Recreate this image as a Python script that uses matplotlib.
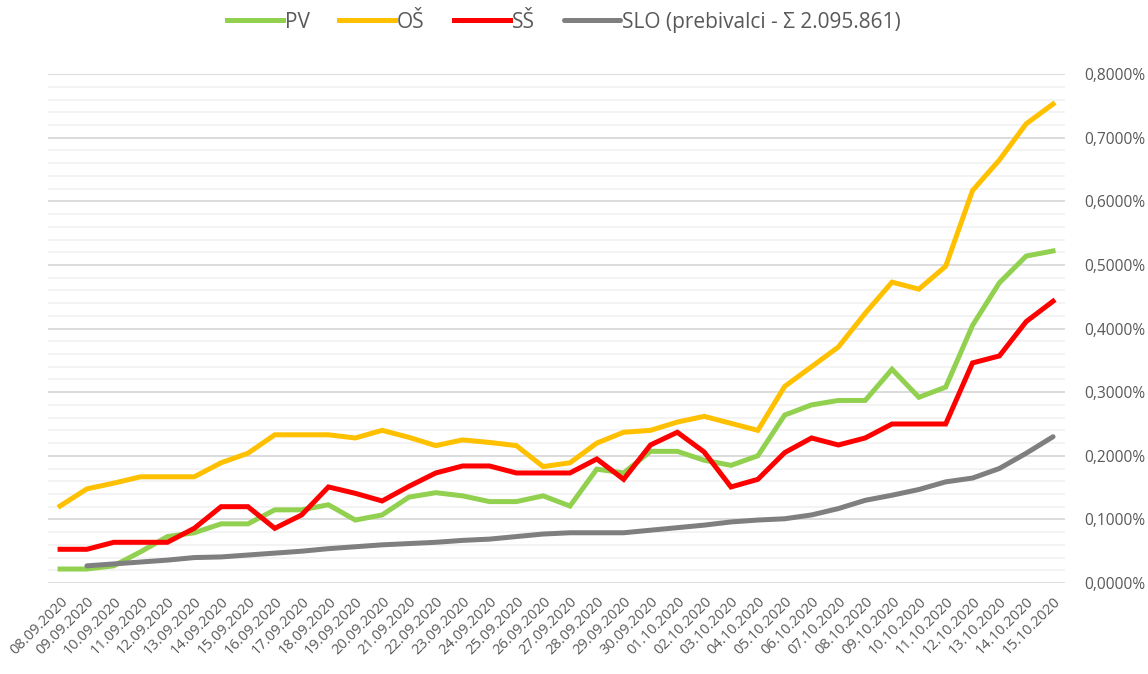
import matplotlib.pyplot as plt
import numpy as np
from matplotlib.ticker import FuncFormatter, MultipleLocator

dates = [
    "08.09.2020", "09.09.2020", "10.09.2020", "11.09.2020", "12.09.2020",
    "13.09.2020", "14.09.2020", "15.09.2020", "16.09.2020", "17.09.2020",
    "18.09.2020", "19.09.2020", "20.09.2020", "21.09.2020", "22.09.2020",
    "23.09.2020", "24.09.2020", "25.09.2020", "26.09.2020", "27.09.2020",
    "28.09.2020", "29.09.2020", "30.09.2020", "01.10.2020", "02.10.2020",
    "03.10.2020", "04.10.2020", "05.10.2020", "06.10.2020", "07.10.2020",
    "08.10.2020", "09.10.2020", "10.10.2020", "11.10.2020", "12.10.2020",
    "13.10.2020", "14.10.2020", "15.10.2020",
]

# values in percent
pv = [0.022, 0.022, 0.027, 0.049, 0.073, 0.079, 0.093, 0.093, 0.115, 0.115,
      0.123, 0.099, 0.107, 0.135, 0.142, 0.137, 0.128, 0.128, 0.137, 0.121,
      0.179, 0.173, 0.207, 0.207, 0.193, 0.185, 0.200, 0.264, 0.280, 0.287,
      0.287, 0.336, 0.292, 0.308, 0.405, 0.472, 0.514, 0.522]
os_ = [0.121, 0.148, 0.157, 0.167, 0.167, 0.167, 0.189, 0.204, 0.233, 0.233,
       0.233, 0.228, 0.240, 0.229, 0.216, 0.225, 0.221, 0.216, 0.183, 0.189,
       0.220, 0.237, 0.240, 0.253, 0.262, 0.251, 0.240, 0.309, 0.340, 0.371,
       0.424, 0.473, 0.462, 0.498, 0.617, 0.665, 0.722, 0.753]
ss = [0.053, 0.053, 0.064, 0.064, 0.064, 0.086, 0.120, 0.120, 0.086, 0.107,
      0.151, 0.141, 0.129, 0.152, 0.173, 0.184, 0.184, 0.173, 0.173, 0.173,
      0.195, 0.163, 0.217, 0.237, 0.206, 0.151, 0.163, 0.205, 0.228, 0.217,
      0.228, 0.250, 0.250, 0.250, 0.346, 0.357, 0.411, 0.443]
slo = [np.nan, 0.027, 0.030, 0.033, 0.036, 0.040, 0.041, 0.044, 0.047, 0.050,
       0.054, 0.057, 0.060, 0.062, 0.064, 0.067, 0.069, 0.073, 0.077, 0.079,
       0.079, 0.079, 0.083, 0.087, 0.091, 0.096, 0.099, 0.101, 0.107, 0.117,
       0.130, 0.138, 0.147, 0.159, 0.165, 0.180, 0.204, 0.230]

series = [
    ("PV", pv, "#92D050", "projecting"),
    ("OŠ", os_, "#FFC000", "projecting"),
    ("SŠ", ss, "#FF0000", "projecting"),
    ("SLO (prebivalci - Σ 2.095.861)", slo, "#7F7F7F", "round"),
]

plt.rcParams["font.family"] = ["Open Sans", "DejaVu Sans"]
text_color = "#595959"

fig = plt.figure(figsize=(11.48, 6.74), dpi=100)
ax = fig.add_axes([0.0418, 0.135, 0.886, 0.755])

x = np.arange(len(dates))
for name, vals, color, cap in series:
    ax.plot(x, vals, color=color, linewidth=3.6, label=name,
            solid_capstyle=cap, solid_joinstyle="miter")

ax.set_xlim(-0.45, len(dates) - 1 + 0.45)
ax.set_ylim(0, 0.8)

ax.yaxis.set_major_locator(MultipleLocator(0.1))
ax.yaxis.set_minor_locator(MultipleLocator(0.02))
ax.yaxis.tick_right()
ax.yaxis.set_major_formatter(
    FuncFormatter(lambda v, p: f"{v:.4f}".replace(".", ",") + "%"))
ax.grid(which="major", axis="y", color="#D9D9D9", linewidth=1.3)
ax.grid(which="minor", axis="y", color="#F2F2F2", linewidth=1.3)
ax.set_axisbelow(True)

ax.set_xticks(x)
ax.set_xticklabels(dates, rotation=45, ha="right", rotation_mode="anchor",
                   fontsize=10.5, color=text_color)
ax.tick_params(axis="both", which="both", length=0)
ax.tick_params(axis="x", pad=8)
ax.tick_params(axis="y", pad=14, labelsize=11.2, labelcolor=text_color)

for s in ax.spines.values():
    s.set_visible(False)

fig.legend(loc="center", bbox_to_anchor=(0.491, 0.967), ncol=4,
           frameon=False, fontsize=15, handlelength=2.7, handletextpad=0.08,
           columnspacing=1.4, labelcolor=text_color)

fig.savefig("out.png", dpi=100)
